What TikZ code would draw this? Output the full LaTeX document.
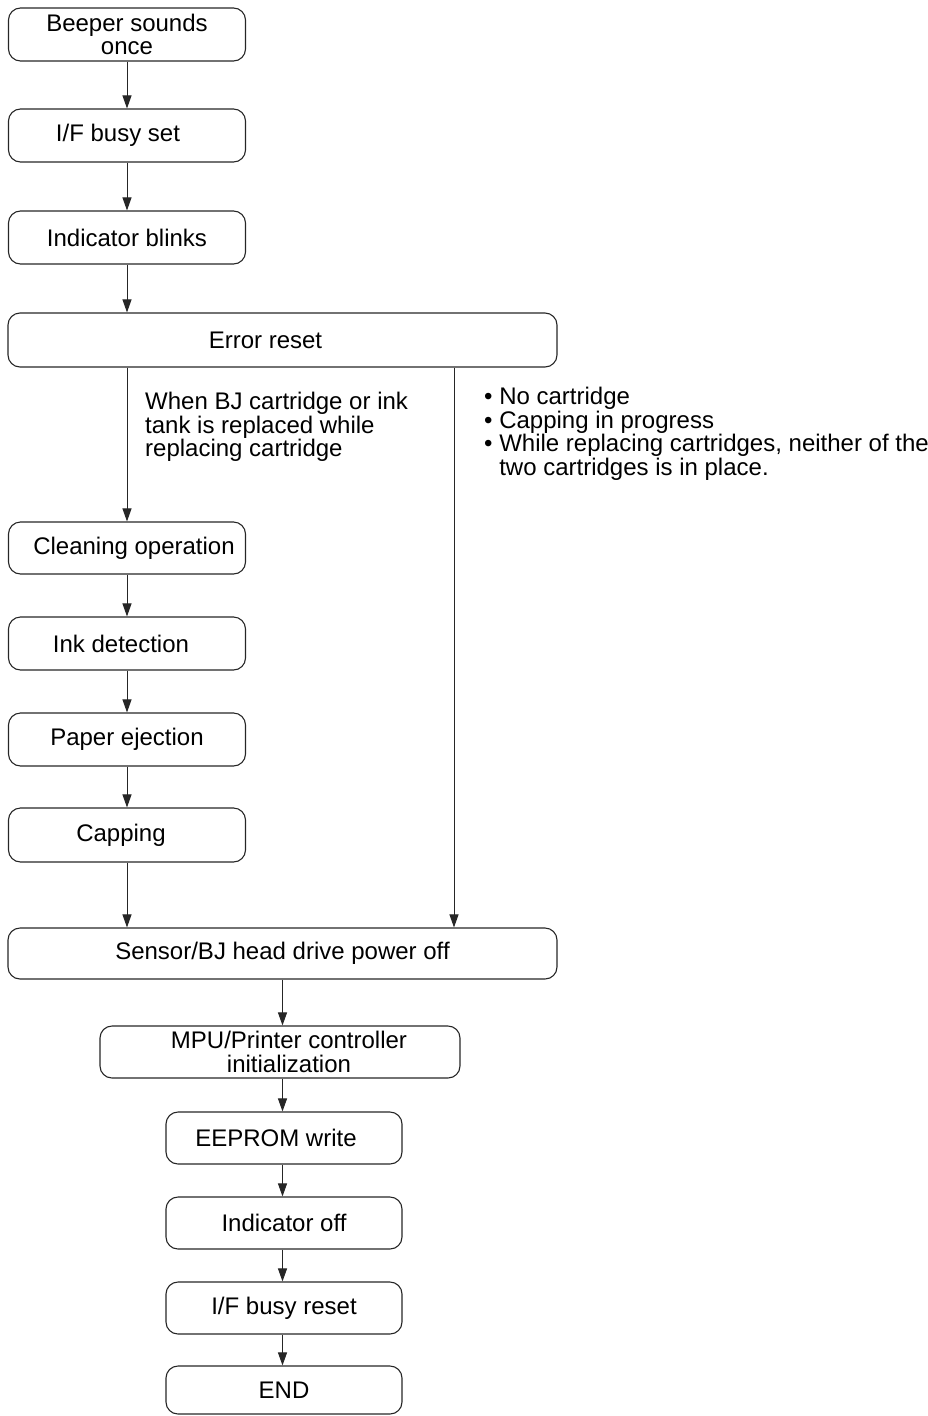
\documentclass[tikz,border=0pt]{standalone}
\usepackage{fontspec}
\setmainfont{Liberation Sans}
\usetikzlibrary{arrows.meta}
\tikzset{
  box/.style={draw=black!85, line width=1.1pt, rounded corners=12pt, inner sep=0pt,
    align=center, font=\fontsize{24}{23.5}\selectfont},
  arr/.style={draw=black!85, line width=1pt, -{Triangle[length=13pt,width=9pt]}},
  note/.style={anchor=north west, align=left, inner sep=0pt, font=\fontsize{24}{23.5}\selectfont},
}
\begin{document}
\begin{tikzpicture}[x=1pt,y=-1pt]
\useasboundingbox (0,0) rectangle (928,1416);
% left column
\node[box, minimum width=237pt, minimum height=53pt] (b1) at (127,34.5) {Beeper sounds\\once};
\node[box, minimum width=237pt, minimum height=53pt] (b2) at (127,135.5) {I/F busy set\hspace*{18pt}};
\node[box, minimum width=237pt, minimum height=53pt] (b3) at (127,237.5) {Indicator blinks};
\node[box, minimum width=549pt, minimum height=54pt] (err) at (282.5,340) {Error reset\hspace*{34pt}};
\node[box, minimum width=237pt, minimum height=52pt] (clean) at (127,548) {\hspace*{14pt}Cleaning operation};
\node[box, minimum width=237pt, minimum height=53pt] (ink) at (127,643.5) {Ink detection\hspace*{12pt}};
\node[box, minimum width=237pt, minimum height=53pt] (paper) at (127,739.5) {Paper ejection};
\node[box, minimum width=237pt, minimum height=54pt] (cap) at (127,835) {Capping\hspace*{12pt}};
\node[box, minimum width=549pt, minimum height=51pt] (sensor) at (282.5,953.5) {Sensor/BJ head drive power off};
% lower column
\node[box, minimum width=360pt, minimum height=52pt] (mpu) at (280,1052) {\hspace*{18pt}MPU/Printer controller\\\hspace*{18pt}initialization};
\node[box, minimum width=236pt, minimum height=52pt] (eep) at (284,1138) {EEPROM write\hspace*{16pt}};
\node[box, minimum width=236pt, minimum height=52pt] (ioff) at (284,1223) {Indicator off};
\node[box, minimum width=236pt, minimum height=52pt] (ifr) at (284,1308) {I/F busy reset};
\node[box, minimum width=236pt, minimum height=48pt] (endn) at (284,1390) {END};
% notes
\node[note] (n1) at (145,392) {When BJ cartridge or ink\\tank is replaced while\\replacing cartridge};
\node[note] (n2) at (484,387) {\textbullet\ No cartridge\\\textbullet\ Capping in progress\\\textbullet\ While replacing cartridges, neither of the\\\phantom{\textbullet\ }two cartridges is in place.};
\coordinate (rx) at (454,0);
% connectors
\draw[arr] (b1) -- (b2);
\draw[arr] (b2) -- (b3);
\draw[arr] (b3.south) -- (err.north -| b3.south);
\draw[arr] (err.south -| clean.north) -- (clean.north);
\draw[arr] (clean) -- (ink);
\draw[arr] (ink) -- (paper);
\draw[arr] (paper) -- (cap);
\draw[arr] (cap.south) -- (sensor.north -| cap.south);
\draw[arr] (err.south -| rx) -- (sensor.north -| rx);
\draw[arr] (sensor.south) -- (mpu.north -| sensor.south);
\draw[arr] (mpu.south -| sensor.south) -- (eep.north -| sensor.south);
\draw[arr] (eep.south -| sensor.south) -- (ioff.north -| sensor.south);
\draw[arr] (ioff.south -| sensor.south) -- (ifr.north -| sensor.south);
\draw[arr] (ifr.south -| sensor.south) -- (endn.north -| sensor.south);
\end{tikzpicture}
\end{document}
